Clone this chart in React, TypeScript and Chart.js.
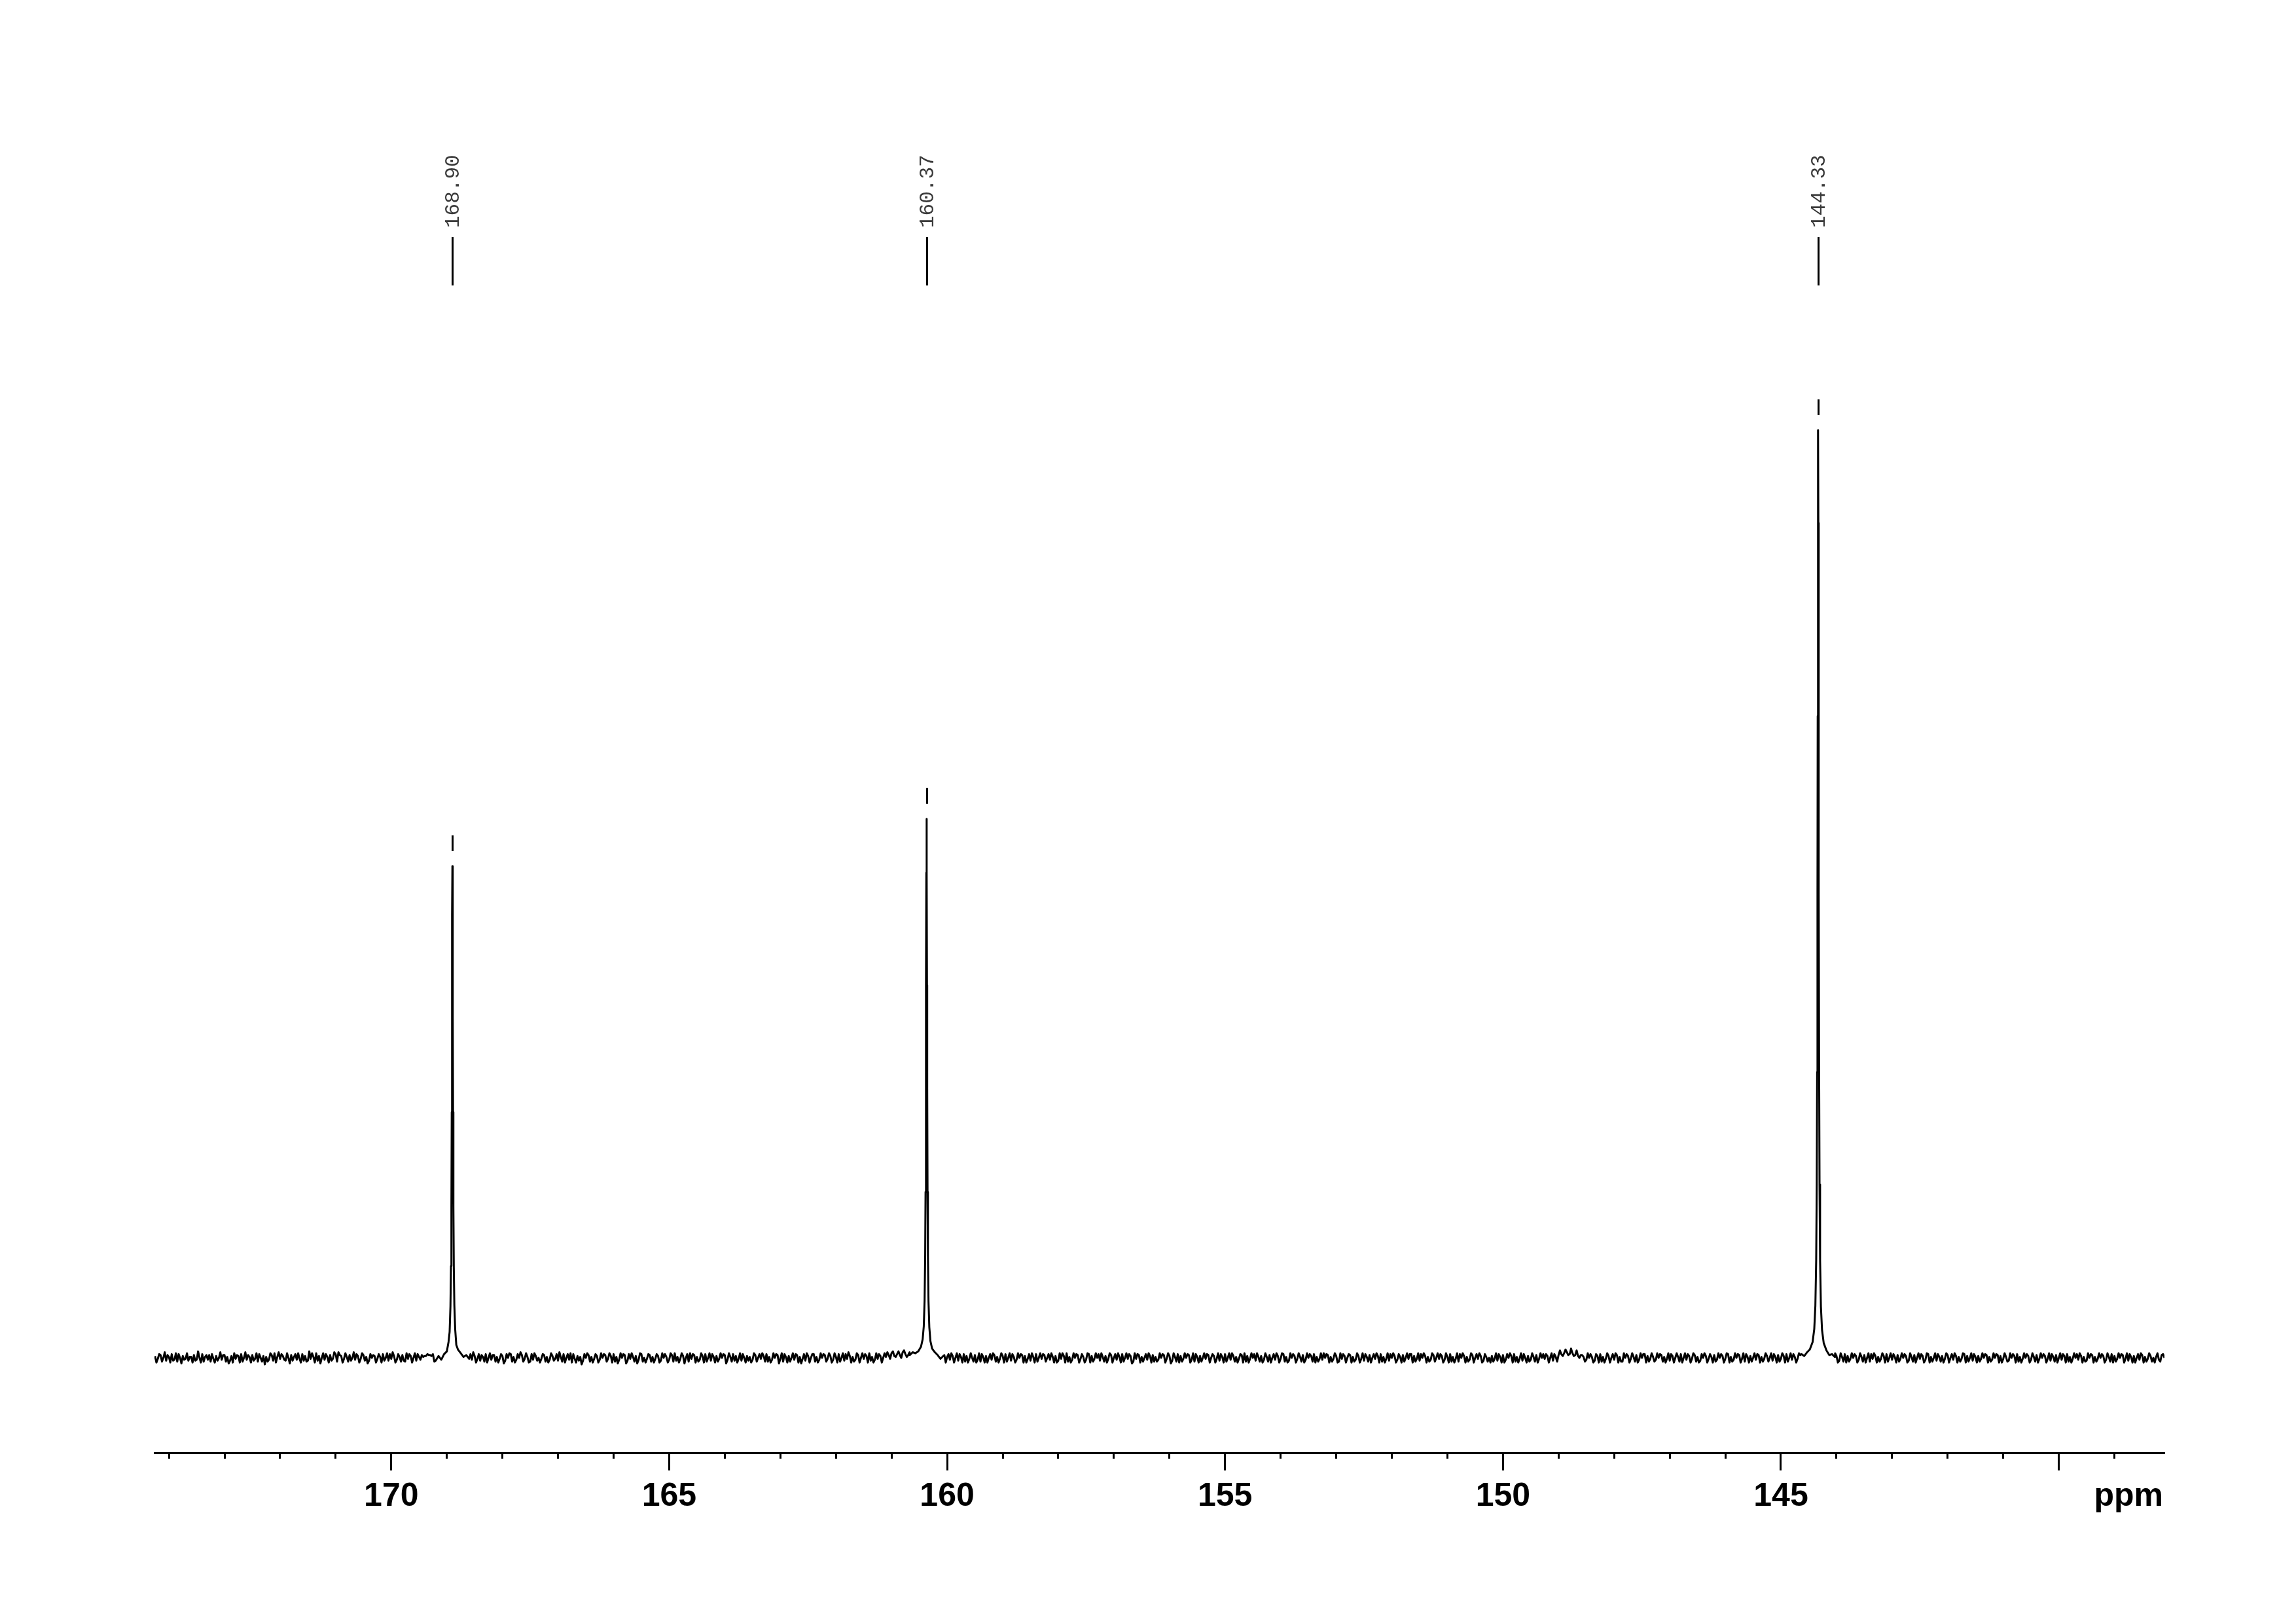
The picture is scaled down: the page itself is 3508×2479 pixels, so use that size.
import React, { useEffect, useRef } from 'react';
import { Chart, registerables } from 'chart.js';

Chart.register(...registerables);

// ---- axis range (ppm, reversed) ----
const X_MAX = 174.26;
const X_MIN = 138.1;
// intensity range (arbitrary units, tallest peak = 1000)
const Y_MIN = -102.3;
const Y_MAX = 1393.1;

// ---- tick labels shown on the ppm axis ----
const TICK_LABELS = ['170', '165', '160', '155', '150', '145'];
const AXIS_UNIT = 'ppm';

// ---- baseline sampling ----
const PPM_START = 174.25;
const PPM_STEP = 0.05;
// baseline values on the 0.05 ppm grid
const BASELINE_NOISE: number[] = [
  2, -1, 3, 0, -3, 1, 4, -2, -4, 0, 2, -1, -3, 1, 3, -2, 0, 4, 1, -2,
  -4, -1, 2, 0, -2, 3, 1, -3, -5, -1, 2, 4, 0, -2, 1, 3, -1, -4, 0, 2,
  1, -2, 3, 5, 1, -1, 2, -3, 0, 3, 1, -2, -1, 4, 2, -3, -1, 1, 5, 2,
  0, -2, 1, 3, -1, 4, 6, 2, -1, 1, 3, 0, -2, 2, -1, 3, 1, -3, 0, 2,
  -1, 1, 4, 0, -3, -1, 2, -2, 1, 3, -4, -1, 2, 0, -3, 1, 3, 2, 4, 3,
  4, -3, -1, 3, 0, -2, 2, 4, 1, -1, -4, 0, 3, 1, -2, 2, -1, -3, 1, 4,
  0, -2, 3, 1, -1, 2, -3, 0, 4, 1, -2, 0, 3, -1, 1, -4, -2, 2, 0, -1,
  3, 1, -2, 2, -1, -3, 1, 4, 0, -2, -5, -1, 2, 1, -3, 0, 3, 1, -1, 2,
  -2, 0, 3, -1, 2, 4, 1, -2, 0, 3, -3, -1, 1, 2, -2, 4, 0, -1, 3, 1,
  -1, 2, -3, 0, 1, -2, 3, 5, 1, -1, 2, 0, -4, -1, 3, 1, -2, 2, 4, 0,
  -3, 1, 2, -1, 0, 3, -2, 1, 4, 2, -1, -3, 0, 2, 1, -2, 3, 0, -1, 2,
  4, 1, -2, 0, 3, -1, -4, 1, 2, 0, -2, 3, 1, -1, -3, 2, 0, 4, 1, -2,
  0, 3, -1, 2, -2, 1, 4, 0, -3, -1, 2, 1, -2, 3, 0, -1, 2, 5, 1, -2,
  -1, 2, 0, 1, 3, 5, 2, 4, 3, 6, 4, 3, -3, 0, 2, -2, 1, 3, -1, 0,
  2, -1, -4, 0, 3, 1, -2, 2, 0, -3, 1, 4, 2, -1, 0, 3, -2, -4, 1, 2,
  0, -2, 3, 1, -1, 2, 4, 0, -3, 1, -2, 0, 3, 2, -1, -3, 1, 4, 0, -1,
  3, 0, -2, 1, 2, -3, -1, 2, 5, 1, -2, 0, 3, -1, 1, -2, 4, 2, -1, 0,
  -3, 1, 2, -1, 3, 0, -2, 1, 4, 0, -1, 2, -4, -1, 3, 1, 0, -2, 2, 3,
  1, -2, 0, 3, -1, 2, -3, 1, 4, 2, -1, 0, 3, -2, -4, 1, 2, 0, -1, 3,
  0, 2, -1, -3, 1, 4, 0, -2, 2, 1, -1, 3, 5, 2, -1, 0, -3, 1, 2, -2,
  1, 3, 0, -2, 2, -1, 4, 1, -3, 0, 2, -1, 1, 3, -2, 0, 2, 4, 1, -1,
  -2, 0, 3, 1, -1, 2, -4, -1, 2, 0, 3, 1, -2, 2, -1, -3, 1, 3, 0, -1,
  2, 4, 1, -1, -3, 0, 2, -2, 1, 3, 0, -1, 4, 2, -1, -3, 0, 2, 1, -2,
  3, 0, -1, 2, -2, 1, 4, 1, -1, -4, 0, 2, 1, -2, 3, 0, -1, 2, -3, 1,
  0, 2, -1, -3, 1, 3, -2, 0, 2, 4, 1, -1, -3, 0, 2, -2, 1, 3, -1, 0,
  -1, 2, 0, -3, 1, 3, 4, 5, 6, 4, 5, 3, 2, 3, 1, -2, 0, 1, -3, 2,
  4, 1, -1, 2, 0, -2, 3, 1, -4, 0, 2, -1, 1, 3, -2, 0, 4, 2, -1, 1,
  -2, 0, 3, 1, -1, -3, 2, 0, 1, 4, 0, -2, 2, -1, 3, 1, -3, 0, 2, -1,
  1, 3, -2, 0, 2, -1, 4, 1, -2, 0, 3, -1, -4, 1, 2, 0, -2, 3, 1, -1,
  2, 0, -3, 1, 3, -1, 2, 4, 0, -2, 1, -1, 3, 0, -2, 2, 5, 1, -1, 0,
  -2, 1, 3, 0, -1, 2, -3, 1, 4, 2, -1, 0, 2, -2, 1, 3, 0, -4, -1, 2,
  1, -1, 2, 4, 0, -2, 1, 3, -1, 0, 2, -3, 1, 3, 0, -1, 2, -2, 4, 1,
  0, -3, 1, 2, -1, 3, 0, -2, 2, 1, -1, 4, 2, 0, -3, 1, 2, -1, 0, 3,
  1, -2, 0, 3, 2, -1, 1, -3, 0, 2, 4, 1, -1, 0, 2, -2, 1, 3, -1, 0,
  2, -1, -3, 1, 3, 0, -2, 2, 4, 1, -1, 0, -2, 2, 1, -3, 0, 3, 1, -1,
  0, 2, -2, 1, 4, 2, -1, 0, 3, -1, -3, 1, 2, 0, -2, 3, 1, -1, 2, 0,
  1, -2, 3, 0,
];
// baseline values half-way between the grid points above
const BASELINE_NOISE_MID: number[] = [
  -5, 4, -4, 6, 3, -5, -3, 5, 4, -6, -2, 5, 1, -5, -3, 7, -5, -4, 3, 3,
  4, -5, -3, 6, 3, -4, -6, 2, 5, 3, -5, -4, 6, 3, -5, -3, 5, 4, -4, -7,
  -4, 5, -3, -5, 6, 4, -2, 5, -6, -3, 4, 5, -5, -3, -4, 7, 5, -5, -3, -6,
  5, 4, -5, -3, 6, -4, 3, -5, 5, -4, -3, 6, 4, -5, 5, -3, -6, 4, 3, -5,
  4, -5, -3, 5, 4, 6, -5, 4, -4, -3, 5, 4, -5, 5, 4, -2, 1, 2, 3, 2,
  -4, 5, 3, -5, -4, 5, -6, -3, 4, 5, 3, -5, -4, 4, 6, -5, 4, 3, -4, -5,
  5, 3, -4, -5, 4, -6, 4, 5, -4, -5, 4, 6, -4, 5, -5, 4, 5, -3, -5, 4,
  -4, -5, 5, -3, 4, 6, -4, -5, 4, 5, 4, -5, -3, -7, 4, 5, -4, -5, 4, -5,
  5, 4, -4, 5, -5, -4, -6, 5, 4, -6, 4, 5, -4, -6, 5, -4, -5, 4, -4, -5,
  4, -5, 5, 4, -5, 5, -4, -3, -5, 5, -6, 4, 5, 4, -5, -4, 5, -5, -4, 5,
  4, -5, -4, 5, 4, -6, 5, -4, -3, -5, 5, 4, -5, -3, -5, 5, -4, 4, 5, -4,
  -4, -5, 5, 4, -6, 5, 4, -5, -4, 5, 4, -5, -6, 4, 5, -5, 4, -4, -5, 5,
  4, -4, 5, -5, 5, -5, -4, 5, 4, 6, -5, -4, 5, -5, 5, 4, -5, -3, -5, 5,
  4, -5, 5, 6, -1, 7, 1, 7, 0, 8, 1, 6, 3, -4, -5, 4, -4, -6, 5, 4,
  -5, 4, 5, -4, -5, 4, 5, -5, 5, 4, -5, -4, -5, 5, -4, -5, 5, 4, -5, -5,
  4, 5, -4, -5, 5, -5, -4, 5, 4, -5, 5, 4, -5, -5, 4, 5, -5, -4, 5, 4,
  -4, 4, 5, -5, -5, 5, 5, -5, -4, -5, 5, 4, -5, 4, -5, 5, -5, -4, 5, 4,
  5, -4, -5, 5, -5, 4, 5, -5, -4, 5, 4, -6, 5, 4, -5, -4, 4, 5, -5, -4,
  -4, 5, 4, -5, 5, -6, 5, -4, -5, -4, 5, 4, -5, 5, 4, -5, -4, 5, 4, -5,
  4, -5, 5, 4, -5, -4, 5, 5, -4, -5, 4, -5, -4, -5, 5, 4, 5, -4, -5, 5,
  -4, -5, 4, 5, -5, 5, -4, -5, 5, 4, -5, 5, -4, -5, 5, 4, -4, -5, -4, 5,
  5, 4, -5, -4, 5, -5, 5, 4, -5, 4, -5, -4, 5, -5, 5, 4, -4, -5, 4, 5,
  -5, -4, -5, 5, 4, 5, -5, 4, -5, -4, 5, 4, -5, -4, 5, 4, 5, -5, -4, 5,
  -4, 5, 4, -5, 5, -5, -4, -5, 5, 4, 5, -5, -4, 5, -5, 4, 5, -5, 4, -4,
  -5, -4, 5, 4, -5, -5, 4, 5, -5, -4, -5, 5, 4, -5, -4, 5, -4, -5, 5, 4,
  4, -5, 5, 4, -4, 8, 2, 9, 3, 10, 2, 8, 0, 3, -4, 5, 4, -5, 4, -5,
  -4, -5, 5, -5, 4, 5, -5, -4, 5, 4, -5, 5, -4, -5, 5, 4, -5, -4, 5, -4,
  5, 4, -4, -5, 5, 4, -5, 5, -4, -5, 5, 4, -5, 5, -4, -5, 4, 5, -5, 4,
  -5, -4, 5, 4, -5, 5, -5, -4, 5, 4, -5, 5, 4, -5, -4, 5, 4, -5, -4, 5,
  -4, 5, 4, -5, -4, 5, -5, -4, 5, 4, -5, 5, -4, 5, 4, -5, -4, -5, 5, 4,
  5, -4, -5, 4, 5, -5, 5, -4, -5, -4, 5, 4, -5, 5, -4, -5, 5, 4, 5, -5,
  -4, 5, -5, -4, 5, 4, -5, -4, 5, 4, -5, 5, -4, -5, 5, 4, -5, 5, -5, -4,
  5, 4, -4, -5, 5, -5, 4, 5, -5, -4, 5, -5, -4, 5, 4, -5, -4, 5, 4, -5,
  -4, 5, 4, -5, -5, 5, -4, 5, 4, -5, -4, -5, 5, 4, -5, 5, -4, -5, 5, 4,
  -5, 5, 4, -4, -5, 5, 4, -5, -4, -5, 5, 4, 5, -5, -4, 5, 4, -5, -4, 5,
  4, -5, 5, -4, -5, -4, 5, 4, -5, 5, 4, -5, -5, 4, 5, -5, -4, 5, -4, -5,
  5, -4, 4,
];

// ---- picked peaks ----
const PEAK_PPM = [168.9, 160.37, 144.33];
const PEAK_LABELS = ['168.90', '160.37', '144.33'];
const PEAK_HEIGHTS = [530, 581, 1000];
const PEAK_WINDOW = 0.3;

// line-shape sample offsets (ppm from peak centre) and intensities
const SHAPE_OFFSETS = [
  -0.3, -0.25, -0.2, -0.15, -0.1, -0.07, -0.05, -0.035, -0.025, -0.018, -0.012, -0.008, -0.004, 0,
  0.004, 0.008, 0.012, 0.018, 0.025, 0.035, 0.05, 0.07, 0.1, 0.15, 0.2, 0.25, 0.3,
];
const PEAK_168_90 = [-1, 3, 1, 5, 9, 14, 31, 57, 99, 163, 265, 367, 477, 530, 477, 367, 265, 163, 99, 56, 28, 17, 7, 4, -2, 2, -3];
const PEAK_160_37 = [2, -1, 3, 6, 10, 18, 33, 61, 109, 179, 291, 402, 523, 581, 523, 402, 291, 179, 109, 62, 34, 20, 12, 7, 5, 6, 3];
const PEAK_144_33 = [1, 4, 3, 8, 16, 30, 55, 105, 187, 308, 500, 692, 900, 1000, 900, 692, 500, 308, 187, 106, 56, 31, 17, 9, 6, 2, 4];
const PEAK_SHAPES = [PEAK_168_90, PEAK_160_37, PEAK_144_33];

const FONT_SANS = '"Liberation Sans", Arial, Helvetica, sans-serif';
const FONT_MONO = '"Liberation Mono", "DejaVu Sans Mono", monospace';

function buildPoints() {
  const pts: { x: number; y: number }[] = [];
  const inPeak = (ppm: number) => PEAK_PPM.some((c) => Math.abs(ppm - c) <= PEAK_WINDOW + 1e-6);
  BASELINE_NOISE.forEach((v, i) => {
    const ppm = Math.round((PPM_START - i * PPM_STEP) * 1000) / 1000;
    if (!inPeak(ppm)) pts.push({ x: ppm, y: v });
  });
  BASELINE_NOISE_MID.forEach((v, i) => {
    const ppm = Math.round((PPM_START - PPM_STEP / 2 - i * PPM_STEP) * 10000) / 10000;
    if (!inPeak(ppm)) pts.push({ x: ppm, y: v });
  });
  PEAK_PPM.forEach((c, k) => {
    PEAK_SHAPES[k].forEach((v, j) => {
      pts.push({ x: Math.round((c + SHAPE_OFFSETS[j]) * 10000) / 10000, y: v });
    });
  });
  pts.sort((a, b) => b.x - a.x);
  return pts;
}

export default function App() {
  const ref = useRef<HTMLCanvasElement>(null);

  useEffect(() => {
    const canvas = ref.current;
    if (!canvas) return;

    const annotations = {
      id: 'nmrAnnotations',
      afterDraw(chart: any) {
        const ctx = chart.ctx as CanvasRenderingContext2D;
        const xs = chart.scales.x;
        const ys = chart.scales.y;
        const area = chart.chartArea;
        ctx.save();
        ctx.strokeStyle = '#000';
        ctx.lineWidth = 3;
        ctx.lineCap = 'butt';
        PEAK_PPM.forEach((ppm, k) => {
          const px = Math.round(xs.getPixelForValue(ppm)) + 0.5;
          // label tick line
          ctx.beginPath();
          ctx.moveTo(px, area.top + 262);
          ctx.lineTo(px, area.top + 336);
          ctx.stroke();
          // marker dash above peak
          const top = ys.getPixelForValue(PEAK_HEIGHTS[k]);
          ctx.beginPath();
          ctx.moveTo(px, top - 47);
          ctx.lineTo(px, top - 23);
          ctx.stroke();
          // rotated label
          ctx.save();
          ctx.translate(px + 1, area.top + 248);
          ctx.rotate(-Math.PI / 2);
          ctx.font = `31px ${FONT_MONO}`;
          ctx.fillStyle = '#3a3a3a';
          ctx.textAlign = 'left';
          ctx.textBaseline = 'middle';
          ctx.fillText(PEAK_LABELS[k], 0, 0);
          ctx.restore();
        });
        // unit label
        ctx.font = `bold 50px ${FONT_SANS}`;
        ctx.fillStyle = '#000';
        ctx.textAlign = 'right';
        ctx.textBaseline = 'middle';
        ctx.fillText(AXIS_UNIT, area.right - 2, area.bottom + 67);
        ctx.restore();
      },
    };

    const chart = new Chart(canvas, {
      type: 'line',
      data: {
        datasets: [
          {
            data: buildPoints(),
            borderColor: '#000',
            borderWidth: 3,
            borderJoinStyle: 'round',
            pointRadius: 0,
            tension: 0,
            fill: false,
          },
        ],
      },
      options: {
        animation: false,
        responsive: false,
        events: [],
        layout: { padding: { left: 236, right: 201, top: 100, bottom: 260 } },
        plugins: {
          legend: { display: false },
          tooltip: { enabled: false },
          title: { display: false },
        },
        scales: {
          x: {
            type: 'linear',
            reverse: true,
            min: X_MIN,
            max: X_MAX,
            position: { y: Y_MIN } as any,
            border: { display: true, color: '#000', width: 3 },
            grid: {
              display: true,
              drawOnChartArea: false,
              drawTicks: true,
              tickLength: 25,
              tickWidth: 3,
              tickColor: '#000',
              color: '#000',
            },
            ticks: {
              stepSize: 5,
              includeBounds: false,
              autoSkip: false,
              maxRotation: 0,
              minRotation: 0,
              padding: 12,
              color: '#000',
              font: { family: FONT_SANS, size: 50, weight: 'bold' },
              callback: (v: any) => (TICK_LABELS.includes(String(v)) ? String(v) : ''),
            },
          },
          xMinor: {
            type: 'linear',
            reverse: true,
            min: X_MIN,
            max: X_MAX,
            position: { y: Y_MIN } as any,
            border: { display: false },
            grid: {
              display: true,
              drawOnChartArea: false,
              drawTicks: true,
              tickLength: 9,
              tickWidth: 3,
              tickColor: '#000',
              color: '#000',
            },
            ticks: {
              stepSize: 1,
              includeBounds: false,
              autoSkip: false,
              maxRotation: 0,
              minRotation: 0,
              display: false,
            },
          },
          y: {
            type: 'linear',
            display: false,
            min: Y_MIN,
            max: Y_MAX,
          },
        },
      } as any,
      plugins: [annotations],
    });

    return () => chart.destroy();
  }, []);

  return (
    <div
      style={{
        position: 'fixed',
        left: 0,
        top: 0,
        width: 3508,
        height: 2479,
        background: '#fff',
      }}
    >
      <canvas ref={ref} width={3508} height={2479} style={{ display: 'block', width: 3508, height: 2479 }} />
    </div>
  );
}
